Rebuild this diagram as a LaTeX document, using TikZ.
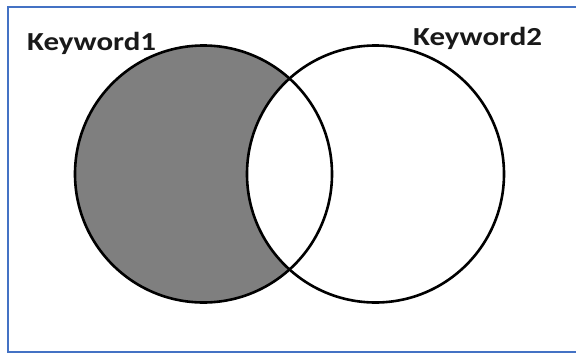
\documentclass[tikz,border=0pt]{standalone}
\usepackage{fontspec}
\setmainfont{Carlito}
\usepackage{graphicx}
\definecolor{frameblue}{HTML}{4472C4}
\definecolor{fillgray}{HTML}{7F7F7F}
\begin{document}
\begin{tikzpicture}[x=1pt,y=-1pt,
  setcircle/.style={draw=black, line width=2.6pt},
  kwlabel/.style={anchor=base west, inner sep=0pt, font=\fontsize{26}{30}\selectfont\bfseries, text=black!90}]
\useasboundingbox (0,0) rectangle (576,354);
\fill[white] (0,0) rectangle (576,354);
\draw[frameblue, line width=2pt] (590,6.5) -- (7.5,6.5) -- (7.5,352) -- (590,352);
\coordinate (c1) at (203.5,174);
\coordinate (c2) at (375.5,174);
\fill[fillgray] (c1) circle[radius=128.5];
\begin{scope}
  \clip (c2) circle[radius=128.5];
  \fill[white] (c1) circle[radius=128.5];
\end{scope}
\draw[setcircle] (c1) circle[radius=128.5];
\draw[setcircle] (c2) circle[radius=128.5];
\node[kwlabel] (k1) at (27,50) {\scalebox{1.19}[1]{Keyword1}};
\node[kwlabel] (k2) at (413,45) {\scalebox{1.19}[1]{Keyword2}};
\end{tikzpicture}
\end{document}
